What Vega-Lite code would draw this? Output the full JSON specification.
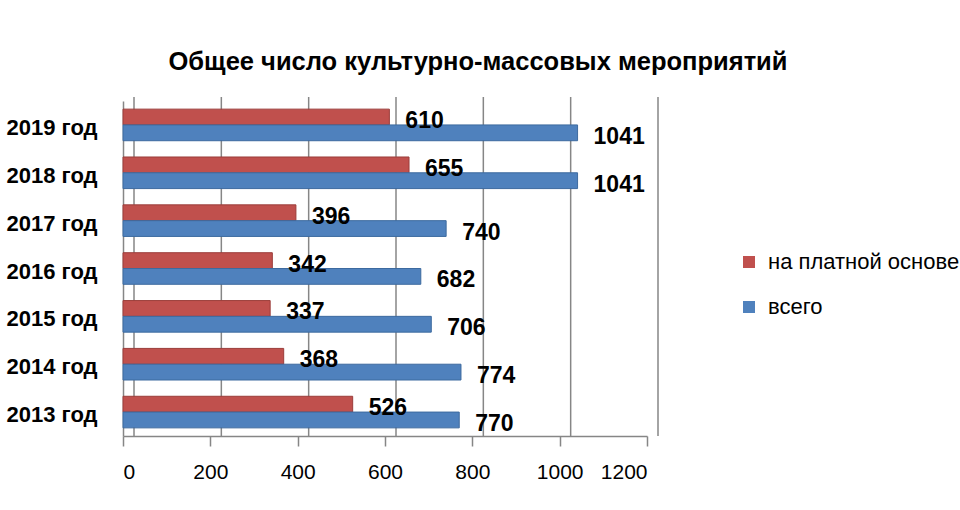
{
  "$schema": "https://vega.github.io/schema/vega-lite/v6.json",
  "width": 524,
  "height": 335,
  "autosize": {"type": "none"},
  "padding": {"left": 123, "top": 101, "right": 313, "bottom": 74},
  "background": "white",
  "config": {"font": "Liberation Sans", "view": {"stroke": null}},
  "title": {
    "text": "Общее число культурно-массовых  мероприятий",
    "fontSize": 25.5, "fontWeight": "bold", "color": "black",
    "anchor": "middle", "dx": 93, "offset": 21
  },
  "layer": [
    {
      "data": {"values": [{"t": 0}, {"t": 200}, {"t": 400}, {"t": 600}, {"t": 800}, {"t": 1000}, {"t": 1200}]},
      "mark": {"type": "rule", "color": "#868686", "strokeWidth": 1.5, "xOffset": 11, "yOffset": -4},
      "encoding": {
        "x": {"field": "t", "type": "quantitative", "scale": {"domain": [0, 1200]}}
      }
    },
    {
      "data": {"values": [
        {"year": "2019 год", "series": "на платной основе", "value": 610},
        {"year": "2019 год", "series": "всего", "value": 1041},
        {"year": "2018 год", "series": "на платной основе", "value": 655},
        {"year": "2018 год", "series": "всего", "value": 1041},
        {"year": "2017 год", "series": "на платной основе", "value": 396},
        {"year": "2017 год", "series": "всего", "value": 740},
        {"year": "2016 год", "series": "на платной основе", "value": 342},
        {"year": "2016 год", "series": "всего", "value": 682},
        {"year": "2015 год", "series": "на платной основе", "value": 337},
        {"year": "2015 год", "series": "всего", "value": 706},
        {"year": "2014 год", "series": "на платной основе", "value": 368},
        {"year": "2014 год", "series": "всего", "value": 774},
        {"year": "2013 год", "series": "на платной основе", "value": 526},
        {"year": "2013 год", "series": "всего", "value": 770}
      ]},
      "encoding": {
        "y": {
          "field": "year", "type": "nominal", "sort": "descending",
          "scale": {"paddingInner": 0.34, "paddingOuter": 0.17},
          "axis": {
            "title": null, "ticks": false, "domainColor": "#868686", "domainWidth": 1.5,
            "labelFontSize": 22, "labelFontWeight": "bold", "labelColor": "black",
            "labelPadding": 26, "labelOffset": 3
          }
        },
        "x": {
          "field": "value", "type": "quantitative",
          "scale": {"domain": [0, 1200]},
          "axis": {
            "title": null, "grid": false, "values": [0, 200, 400, 600, 800, 1000, 1200], "format": "d",
            "domainColor": "#868686", "domainWidth": 1.5,
            "tickColor": "#868686", "tickWidth": 1.5, "tickSize": 10,
            "labelFontSize": 21, "labelColor": "black", "labelPadding": 15
          }
        },
        "yOffset": {"field": "series", "type": "nominal", "scale": {"domain": ["на платной основе", "всего"]}}
      },
      "layer": [
        {
          "mark": {"type": "bar", "strokeWidth": 1},
          "encoding": {
            "color": {
              "field": "series", "type": "nominal",
              "scale": {"domain": ["на платной основе", "всего"], "range": ["#C0504D", "#4F81BD"]},
              "legend": {
                "title": null, "orient": "none", "legendX": 615, "legendY": 150,
                "symbolType": "square", "symbolSize": 144, "symbolStrokeWidth": 0,
                "labelFontSize": 22, "labelColor": "black", "labelOffset": 8,
                "rowPadding": 23, "padding": 0, "labelLimit": 400
              }
            },
            "stroke": {
              "field": "series", "type": "nominal",
              "scale": {"domain": ["на платной основе", "всего"], "range": ["#9B3D3A", "#3D6A9F"]},
              "legend": null
            }
          }
        },
        {
          "mark": {"type": "text", "align": "left", "baseline": "middle", "dx": 16, "dy": 4,
                   "fontSize": 23, "fontWeight": "bold", "color": "black"},
          "encoding": {"text": {"field": "value", "type": "quantitative"}}
        }
      ]
    }
  ]
}
